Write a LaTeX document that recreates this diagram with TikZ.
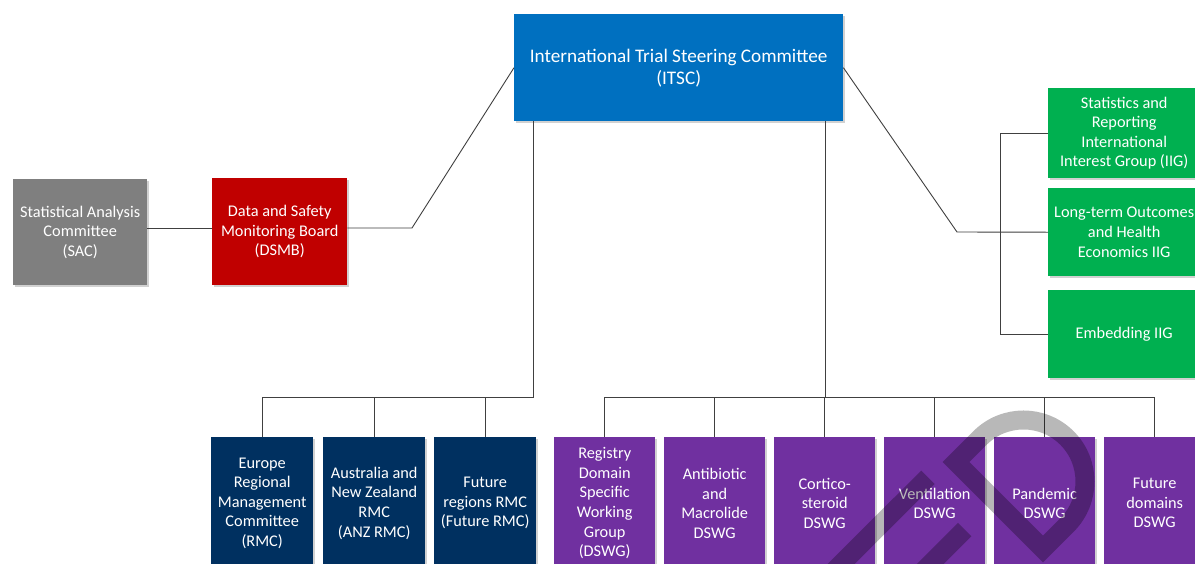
\documentclass[tikz,border=0pt]{standalone}
\usepackage{fontspec}
\setmainfont{Carlito}
\usetikzlibrary{shadows}
\definecolor{itscblue}{HTML}{0070C0}
\definecolor{dsmbred}{HTML}{C00000}
\definecolor{sacgrey}{HTML}{7F7F7F}
\definecolor{iiggreen}{HTML}{00B050}
\definecolor{rmcnavy}{HTML}{003060}
\definecolor{dswgpurple}{HTML}{7030A0}
\definecolor{linegrey}{HTML}{404040}
\tikzset{
  box/.style={anchor=north west, inner sep=0pt, text=white, align=center,
    font=\fontsize{16.3}{19.6}\selectfont,
    drop shadow={shadow xshift=1.5pt, shadow yshift=-1.5pt, opacity=0.18, fill=black}},
  conn/.style={draw=linegrey, line width=0.9pt},
  wm/.style={draw=black, draw opacity=0.28, line width=19pt, miter limit=10}
}
\begin{document}
\begin{tikzpicture}[x=1pt,y=-1pt]
\useasboundingbox (0,0) rectangle (1195,563);
\clip (0,0) rectangle (1195,563);
\fill[white] (0,0) rectangle (1195,563);

% boxes
\node[box, fill=itscblue, minimum width=329pt, minimum height=107pt,
  font=\fontsize{19.2}{22}\selectfont] (itsc) at (514,14)
  {International Trial Steering Committee\\(ITSC)};
\node[box, fill=sacgrey, minimum width=134pt, minimum height=106pt] (sac) at (13,179)
  {Statistical Analysis\\Committee\\(SAC)};
\node[box, fill=dsmbred, minimum width=135pt, minimum height=107pt] (dsmb) at (212,178)
  {Data and Safety\\Monitoring Board\\(DSMB)};

\node[box, fill=iiggreen, minimum width=152pt, minimum height=90pt] (g1) at (1048,88)
  {Statistics and\\Reporting\\International\\Interest Group (IIG)};
\node[box, fill=iiggreen, minimum width=152pt, minimum height=88pt] (g2) at (1048,188)
  {Long-term Outcomes\\and Health\\Economics IIG};
\node[box, fill=iiggreen, minimum width=152pt, minimum height=88pt] (g3) at (1048,290)
  {Embedding IIG};

\node[box, fill=rmcnavy, minimum width=102pt, minimum height=132pt] (r1) at (211,437)
  {Europe\\Regional\\Management\\Committee\\(RMC)};
\node[box, fill=rmcnavy, minimum width=102pt, minimum height=132pt] (r2) at (323,437)
  {Australia and\\New Zealand\\RMC\\(ANZ RMC)};
\node[box, fill=rmcnavy, minimum width=102pt, minimum height=132pt] (r3) at (434,437)
  {Future\\regions RMC\\(Future RMC)};

\node[box, fill=dswgpurple, minimum width=101pt, minimum height=132pt] (p1) at (554,437)
  {Registry\\Domain\\Specific\\Working\\Group\\(DSWG)};
\node[box, fill=dswgpurple, minimum width=101pt, minimum height=132pt] (p2) at (664,437)
  {Antibiotic\\and\\Macrolide\\DSWG};
\node[box, fill=dswgpurple, minimum width=101pt, minimum height=132pt] (p3) at (774,437)
  {Cortico-\\steroid\\DSWG};
\node[box, fill=dswgpurple, minimum width=101pt, minimum height=132pt] (p4) at (884,437)
  {Ventilation\\DSWG};
\node[box, fill=dswgpurple, minimum width=101pt, minimum height=132pt] (p5) at (994,437)
  {Pandemic\\DSWG};
\node[box, fill=dswgpurple, minimum width=101pt, minimum height=132pt] (p6) at (1104,437)
  {Future\\domains\\DSWG};

% connector junctions
\coordinate (jl) at (412,228);
\coordinate (jr) at (957,232);
\coordinate (bx) at (1000,0);
\coordinate (busL) at (533,397);
\coordinate (busR) at (825,397);

% left branch
\draw[conn] (sac.east |- jl) -- (dsmb.west |- jl);
\draw[conn] (dsmb.east |- jl) -- (jl) -- (itsc.west);

% right branch
\draw[conn] (itsc.east) -- (jr) -- (g2.west);
\draw[conn] (g1.west) -- (g1.west -| bx) -- (g3.west -| bx) -- (g3.west);

% RMC tree
\draw[conn] (itsc.south -| busL) -- (busL) -- (r1.north |- busL) -- (r1.north);
\draw[conn] (r2.north |- busL) -- (r2.north);
\draw[conn] (r3.north |- busL) -- (r3.north);

% DSWG tree
\draw[conn] (itsc.south -| busR) -- (busR);
\draw[conn] (p1.north) -- (p1.north |- busR) -- (p6.north |- busR) -- (p6.north);
\draw[conn] (p2.north |- busR) -- (p2.north);
\draw[conn] (p3.north |- busR) -- (p3.north);
\draw[conn] (p4.north |- busR) -- (p4.north);
\draw[conn] (p5.north |- busR) -- (p5.north);

% watermark fragment ("ED")
\draw[wm] (956,462) -- (980,438) arc[start angle=225, end angle=405, radius=61.5]
  -- (1043,549) -- cycle;
\draw[wm] (927.9,477.3) -- (839.4,565.7) -- (926.6,652.7) -- (1001.7,578.3)
  (884.0,610.2) -- (964.6,529.6);
\end{tikzpicture}
\end{document}
